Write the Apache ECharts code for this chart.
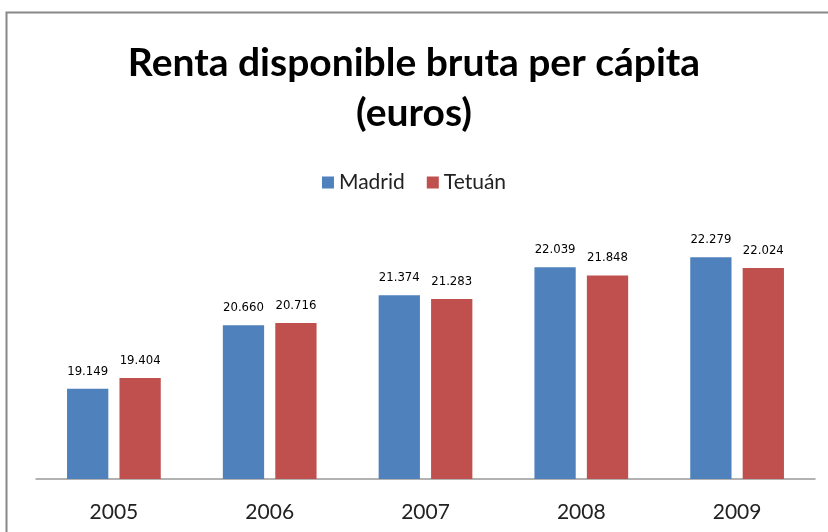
<!DOCTYPE html>
<html>
<head>
<meta charset="utf-8">
<script src="https://cdn.jsdelivr.net/npm/echarts@6/dist/echarts.min.js"></script>
<style>
  html, body { margin: 0; padding: 0; background: #fff; }
  #chart { width: 828px; height: 532px; }
</style>
</head>
<body>
<div id="chart"></div>
<script>
var years = ['2005', '2006', '2007', '2008', '2009']
var madrid = [19149, 20660, 21374, 22039, 22279]
var tetuan = [19404, 20716, 21283, 21848, 22024]

function fmt (v) {
  return String(v).replace(/\B(?=(\d{3})+(?!\d))/g, '.')
}

var barLabel = {
  show: true,
  position: 'top',
  distance: 11,
  fontSize: 13,
  color: '#000',
  fontFamily: 'DejaVu Sans Condensed, Liberation Sans',
  formatter: function (p) { return fmt(p.value) }
}

var myChart = echarts.init(document.getElementById('chart'))
myChart.setOption({
  animation: false,
  graphic: [{
    type: 'rect',
    shape: { x: 6.5, y: 12.5, width: 900, height: 600 },
    style: { fill: 'none', stroke: '#888', lineWidth: 2 },
    silent: true
  }],
  title: {
    text: 'Renta disponible bruta per cápita\n(euros)',
    left: 'center',
    top: 33,
    textStyle: {
      fontFamily: 'Lato, Open Sans',
      fontWeight: 'bold',
      fontSize: 39,
      lineHeight: 50,
      color: '#000'
    }
  },
  legend: {
    top: 167,
    left: 'center',
    itemWidth: 12,
    itemHeight: 12,
    itemGap: 22,
    icon: 'rect',
    selectedMode: false,
    textStyle: {
      fontFamily: 'Lato, Open Sans',
      fontSize: 21,
      color: '#222'
    }
  },
  grid: {
    left: 36,
    right: 13,
    top: 227,
    bottom: 53
  },
  xAxis: {
    type: 'category',
    data: years,
    axisLine: { lineStyle: { color: '#999', width: 1.5 } },
    axisTick: { show: false },
    axisLabel: {
      margin: 23,
      fontSize: 21,
      color: '#222',
      fontFamily: 'Lato, Open Sans'
    }
  },
  yAxis: {
    type: 'value',
    min: 17000,
    max: 23000,
    show: false,
    splitLine: { show: false }
  },
  series: [
    {
      name: 'Madrid',
      type: 'bar',
      data: madrid,
      barWidth: '26.5%',
      barGap: '27%',
      label: barLabel,
      itemStyle: { color: '#4F81BD' }
    },
    {
      name: 'Tetuán',
      type: 'bar',
      data: tetuan,
      barWidth: '26.5%',
      label: barLabel,
      itemStyle: { color: '#C0504D' }
    }
  ]
})
</script>
</body>
</html>
